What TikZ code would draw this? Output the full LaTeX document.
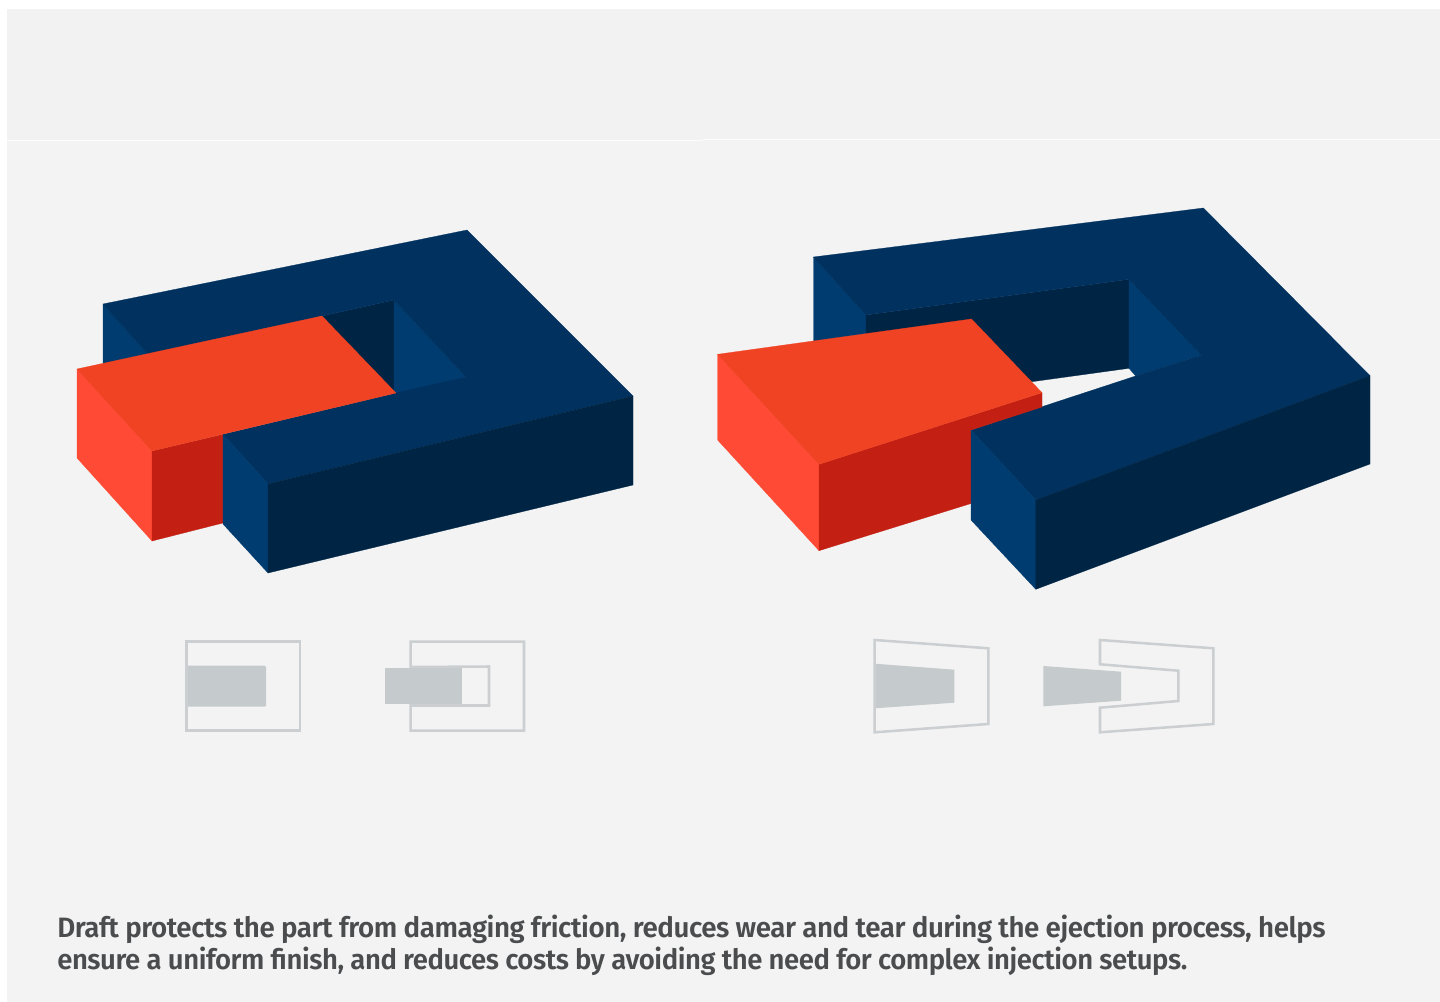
\documentclass[tikz,border=0pt]{standalone}
\usepackage{graphicx}
\usepackage{fontspec}
\setmainfont{Fira Sans}[UprightFont=* Medium,BoldFont=* SemiBold,LetterSpace=-1.6]
\definecolor{panelA}{HTML}{F2F2F2}
\definecolor{panelB}{HTML}{F3F3F3}
\definecolor{navyTop}{HTML}{00315F}
\definecolor{navyDark}{HTML}{002444}
\definecolor{navySide}{HTML}{003C70}
\definecolor{redTop}{HTML}{F04323}
\definecolor{redSide}{HTML}{FF4B35}
\definecolor{redDark}{HTML}{C32013}
\definecolor{ghost}{HTML}{C5CACC}
\definecolor{ghostline}{HTML}{CBCFD1}
\definecolor{inkText}{HTML}{4A4C4E}
\tikzset{
  facet/.style={line width=0.2pt,draw=#1,fill=#1,line join=round},
  frameline/.style={draw=ghostline,line width=1.9pt,line join=miter},
  ghostfill/.style={fill=ghost,draw=none},
  caption/.style={anchor=base west,inner sep=0pt,text=inkText,font=\fontsize{21pt}{24pt}\selectfont\bfseries}
}
\begin{document}
\begin{tikzpicture}[x=0.75pt,y=-0.75pt]
\useasboundingbox (0,0) rectangle (1440,1002);
\fill[white] (0,0) rectangle (1440,1002);
\fill[panelB] (7,140) rectangle (1440,1002);
\fill[panelA] (7,9) rectangle (1440,140);
\draw[white!75!panelA,line width=0.9pt] (7,140.5) -- (703,140.5);
\draw[white!75!panelA,line width=0.9pt] (703,139.5) -- (1440,139.5);

% left model
\fill[facet=navySide] (103,304) -- (146,352) -- (146,360) -- (103,370) -- cycle;
\fill[facet=navyDark] (310,325) -- (322,316) -- (394,300) -- (394,393) -- cycle;
\fill[facet=navySide] (394,300) -- (466,377) -- (394,395) -- cycle;
\fill[facet=navyTop] (103,304) -- (467,230) -- (633,396) -- (268,484) -- (223,434.3) -- (396,393) -- (466,377) -- (394,300) -- (322,316) -- (146,360) -- (146,352) -- cycle;
\fill[facet=redSide] (77,369) -- (152,451) -- (152,541) -- (77,458) -- cycle;
\fill[facet=redDark] (152,451) -- (223,434.3) -- (223,523) -- (152,541) -- cycle;
\fill[facet=redTop] (77,369) -- (322,316) -- (396,393) -- (152,451) -- cycle;
\fill[facet=navySide] (223,434.3) -- (268,484) -- (268,573) -- (223,524) -- cycle;
\fill[facet=navyDark] (268,484) -- (633,396) -- (633,485) -- (268,573) -- cycle;

% right model
\fill[facet=navySide] (813.5,257) -- (866,315) -- (866,340) -- (813.5,348) -- cycle;
\fill[facet=navyDark] (866,315) -- (1129,279.3) -- (1129,368.3) -- (1032,381.7) -- (960,330) -- (866,340) -- cycle;
\fill[facet=navySide] (1129,279.3) -- (1201.6,355.3) -- (1135.7,376) -- (1129,368.3) -- cycle;
\fill[facet=navyTop] (813.5,257) -- (1203.4,208) -- (1370,375.7) -- (1035.8,500) -- (971,430) -- (1135.7,376) -- (1201.6,355.3) -- (1129,279.3) -- (866,315) -- cycle;
\fill[facet=redSide] (717.6,354.3) -- (819,464.3) -- (819,550.7) -- (717.6,440) -- cycle;
\fill[facet=redDark] (819,464.3) -- (1042,392.7) -- (1042,407) -- (971,430) -- (971,503.5) -- (819,550.7) -- cycle;
\fill[facet=redTop] (717.6,354.3) -- (971.5,319) -- (1042,392.7) -- (819,464.3) -- cycle;
\fill[facet=navySide] (971,430) -- (1035.8,500) -- (1035.8,589.3) -- (971,520) -- cycle;
\fill[facet=navyDark] (1035.8,500) -- (1370,375.7) -- (1370,464) -- (1035.8,589.3) -- cycle;

% small diagrams
\fill[ghostfill,rounded corners=1pt] (186,665.7) rectangle (266,706.7);
\draw[frameline] (186.5,641.7) rectangle (300,730.7);
\fill[ghostfill] (385,667.7) rectangle (411,704.3);
\fill[ghostfill] (410.7,666) rectangle (462.3,706);
\draw[frameline] (410.7,667) -- (410.7,641.7) -- (524,641.7) -- (524,730.7) -- (410.7,730.7) -- (410.7,705.5) -- (489,705.5) -- (489,666.5) -- cycle;

\fill[ghostfill] (874.7,663.7) -- (954.3,669.7) -- (954.3,702.7) -- (874.7,708.3) -- cycle;
\draw[frameline] (874.7,640) -- (988.3,648.3) -- (988.3,724) -- (874.7,732.3) -- cycle;
\fill[ghostfill] (1043.3,666) -- (1121,671.7) -- (1121,700.7) -- (1043.3,706.3) -- cycle;
\draw[frameline] (1100,664.3) -- (1100,640) -- (1213.3,648.3) -- (1213.3,724) -- (1100,732.3) -- (1100,707.7) -- (1178.3,701) -- (1178.3,670.7) -- cycle;

% caption
\node[caption] (lineone) at (57,937) {\scalebox{0.99}[1]{Draft protects the part from damaging friction, reduces wear and tear during the ejection process, helps}};
\node[caption] (linetwo) at (57,969) {\scalebox{0.982}[1]{ensure a uniform finish, and reduces costs by avoiding the need for complex injection setups.}};
\end{tikzpicture}
\end{document}
